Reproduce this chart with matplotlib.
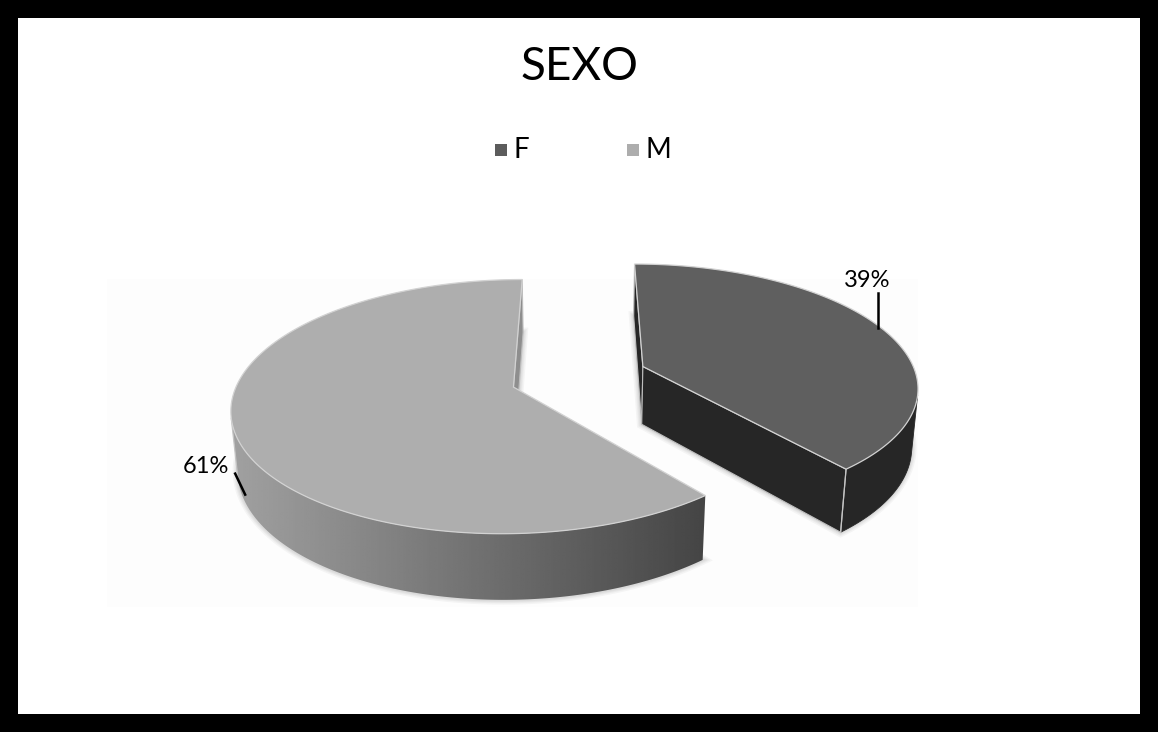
import numpy as np
import matplotlib
matplotlib.use("Agg")
import matplotlib.pyplot as plt
from matplotlib.patches import Polygon, Rectangle

# ---- data ----
categories = ["F", "M"]
values = [39, 61]
pct_labels = ["39%", "61%"]
title_text = "SEXO"

# ---- styling ----
top_colors = ["#5f5f5f", "#aeaeae"]
legend_colors = ["#5c5c5c", "#adadad"]
FONT = ["Lato", "DejaVu Sans"]

W, H = 1158, 732
fig = plt.figure(figsize=(W / 100, H / 100), dpi=100)
fig.patch.set_facecolor("white")
ax = fig.add_axes([0, 0, 1, 1])
ax.set_xlim(0, W)
ax.set_ylim(H, 0)
ax.axis("off")

# ---- 3D projection of a unit-radius pie (x right, y depth, z up) ----
X0, Y0 = 579.0, 435.0
FX, FY = 1600.0, 1636.0
DIST = 5.95
ELEV = np.radians(27.6)
THICK = 0.235
EXPLODE = 0.251
cam = np.array([0.0, -DIST * np.cos(ELEV), DIST * np.sin(ELEV)])


def project(x, y, z):
    depth = y * np.cos(ELEV) - z * np.sin(ELEV) + DIST
    sx = X0 + FX * x / depth
    sy = Y0 - FY * (y * np.sin(ELEV) + z * np.cos(ELEV)) / depth
    return sx, sy


def pts(xs, ys, zs):
    sx, sy = project(np.asarray(xs, float), np.asarray(ys, float), np.asarray(zs, float))
    return np.column_stack([sx, sy])


# plot-area background
ax.add_patch(Rectangle((107, 279), 811, 328, facecolor="#fdfdfd",
                       edgecolor="none", zorder=0))

fractions = np.array(values, dtype=float) / np.sum(values)
cum = np.concatenate([[0.0], np.cumsum(fractions)])
starts = 90.0 - cum[:-1] * 360.0
ends = 90.0 - cum[1:] * 360.0

anchors = []
for i in range(len(values)):
    a0, a1 = starts[i], ends[i]
    mid = np.radians((a0 + a1) / 2.0)
    cx, cy = EXPLODE * np.cos(mid), EXPLODE * np.sin(mid)
    th = np.radians(np.linspace(a0, a1, 400))
    rx, ry = cx + np.cos(th), cy + np.sin(th)
    base = 2 + 10 * (1 - i)  # F sits behind M

    # soft shadow around the base
    bottom = np.vstack([pts([cx], [cy], [0.0]), pts(rx, ry, np.zeros_like(rx))])
    for lw in [7, 5, 3.5, 2]:
        ax.add_patch(Polygon(bottom, closed=True, facecolor="none",
                             edgecolor="black", alpha=0.035, lw=lw,
                             zorder=base - 1))

    # outer wall: the arc portion that faces the camera
    vis = []
    for t in th:
        p = np.array([cx + np.cos(t), cy + np.sin(t), THICK / 2])
        nrm = np.array([np.cos(t), np.sin(t), 0.0])
        vis.append(np.dot(nrm, cam - p) > 0)
    vis = np.array(vis)
    if vis.any():
        idx = np.where(vis)[0]
        wx, wy = rx[idx[0]:idx[-1] + 1], ry[idx[0]:idx[-1] + 1]
        wall = np.vstack([pts(wx, wy, np.full_like(wx, THICK)),
                          pts(wx[::-1], wy[::-1], np.zeros_like(wx))])
        if i == 0:
            ax.add_patch(Polygon(wall, closed=True, facecolor="#262626",
                                 edgecolor="#262626", lw=0.6, zorder=base))
        else:
            clip = Polygon(wall, closed=True, facecolor="none",
                           edgecolor="none", transform=ax.transData)
            xmin, xmax = wall[:, 0].min(), wall[:, 0].max()
            ymin, ymax = wall[:, 1].min(), wall[:, 1].max()
            shade = np.linspace(0.63, 0.27, 256)[None, :]
            im = ax.imshow(shade, cmap="gray", vmin=0, vmax=1, aspect="auto",
                           extent=(xmin, xmax, ymax, ymin),
                           interpolation="bilinear", zorder=base)
            im.set_clip_path(clip)
            ax.set_xlim(0, W)
            ax.set_ylim(H, 0)
        # light edge where the wall meets the end face
        ex_, ey_ = rx[idx[-1]], ry[idx[-1]]
        edge = pts([ex_, ex_], [ey_, ey_], [0.0, THICK])
        ax.plot(edge[:, 0], edge[:, 1], color="#c4c4c4", lw=0.9, zorder=base + 0.6)

    # radial faces
    for ang, nang in ((a0, a0 + 90.0), (a1, a1 - 90.0)):
        nrm = np.array([np.cos(np.radians(nang)), np.sin(np.radians(nang)), 0.0])
        if np.dot(nrm, cam - np.array([cx, cy, THICK / 2])) <= 0:
            continue
        ex, ey = cx + np.cos(np.radians(ang)), cy + np.sin(np.radians(ang))
        face = pts([cx, ex, ex, cx], [cy, ey, ey, cy], [0, 0, THICK, THICK])
        col = "#262626" if i == 0 else "#8e8e8e"
        ax.add_patch(Polygon(face, closed=True, facecolor=col,
                             edgecolor="#bdbdbd", lw=0.8, zorder=base + 0.5))

    # top face
    top = np.vstack([pts([cx], [cy], [THICK]), pts(rx, ry, np.full_like(rx, THICK))])
    ax.add_patch(Polygon(top, closed=True, facecolor=top_colors[i],
                         edgecolor="#d2d2d2", lw=0.9, zorder=base + 1))

    # label anchors at the slice bisector
    if i == 0:
        anchors.append(project(cx + np.cos(mid), cy + np.sin(mid), THICK))
    else:
        anchors.append(project(cx + np.cos(mid), cy + np.sin(mid), 0.0))

# ---- data labels with leader lines ----
(fx, fy), (mx, my) = anchors
ax.plot([fx - 4, fx - 4], [fy - 1, fy - 36], color="black", lw=1.8, zorder=30)
ax.text(fx - 15, fy - 42, pct_labels[0], ha="center", va="baseline",
        fontsize=17, family=FONT, color="black", zorder=30)
ax.plot([mx + 4, mx - 6], [my + 2, my - 19], color="black", lw=1.8, zorder=30)
ax.text(mx - 12, my - 20, pct_labels[1], ha="right", va="baseline",
        fontsize=17, family=FONT, color="black", zorder=30)

# ---- title ----
ax.text(579, 80, title_text, ha="center", va="baseline", fontsize=33,
        family=FONT, color="black")

# ---- legend ----
legend_x = [495, 627]
for k, cat in enumerate(categories):
    ax.add_patch(Rectangle((legend_x[k], 144), 12, 12,
                           facecolor=legend_colors[k], edgecolor="none"))
    ax.text(legend_x[k] + 19, 158, cat, ha="left", va="baseline",
            fontsize=20, family=FONT, color="black")

# ---- outer frame ----
fig.patches.append(Rectangle((9 / W, 9 / H), 1 - 18 / W, 1 - 18 / H,
                             transform=fig.transFigure, facecolor="none",
                             edgecolor="black", lw=18 * 0.72,
                             joinstyle="miter", zorder=50))

fig.savefig("out.png", dpi=100, facecolor="white")
